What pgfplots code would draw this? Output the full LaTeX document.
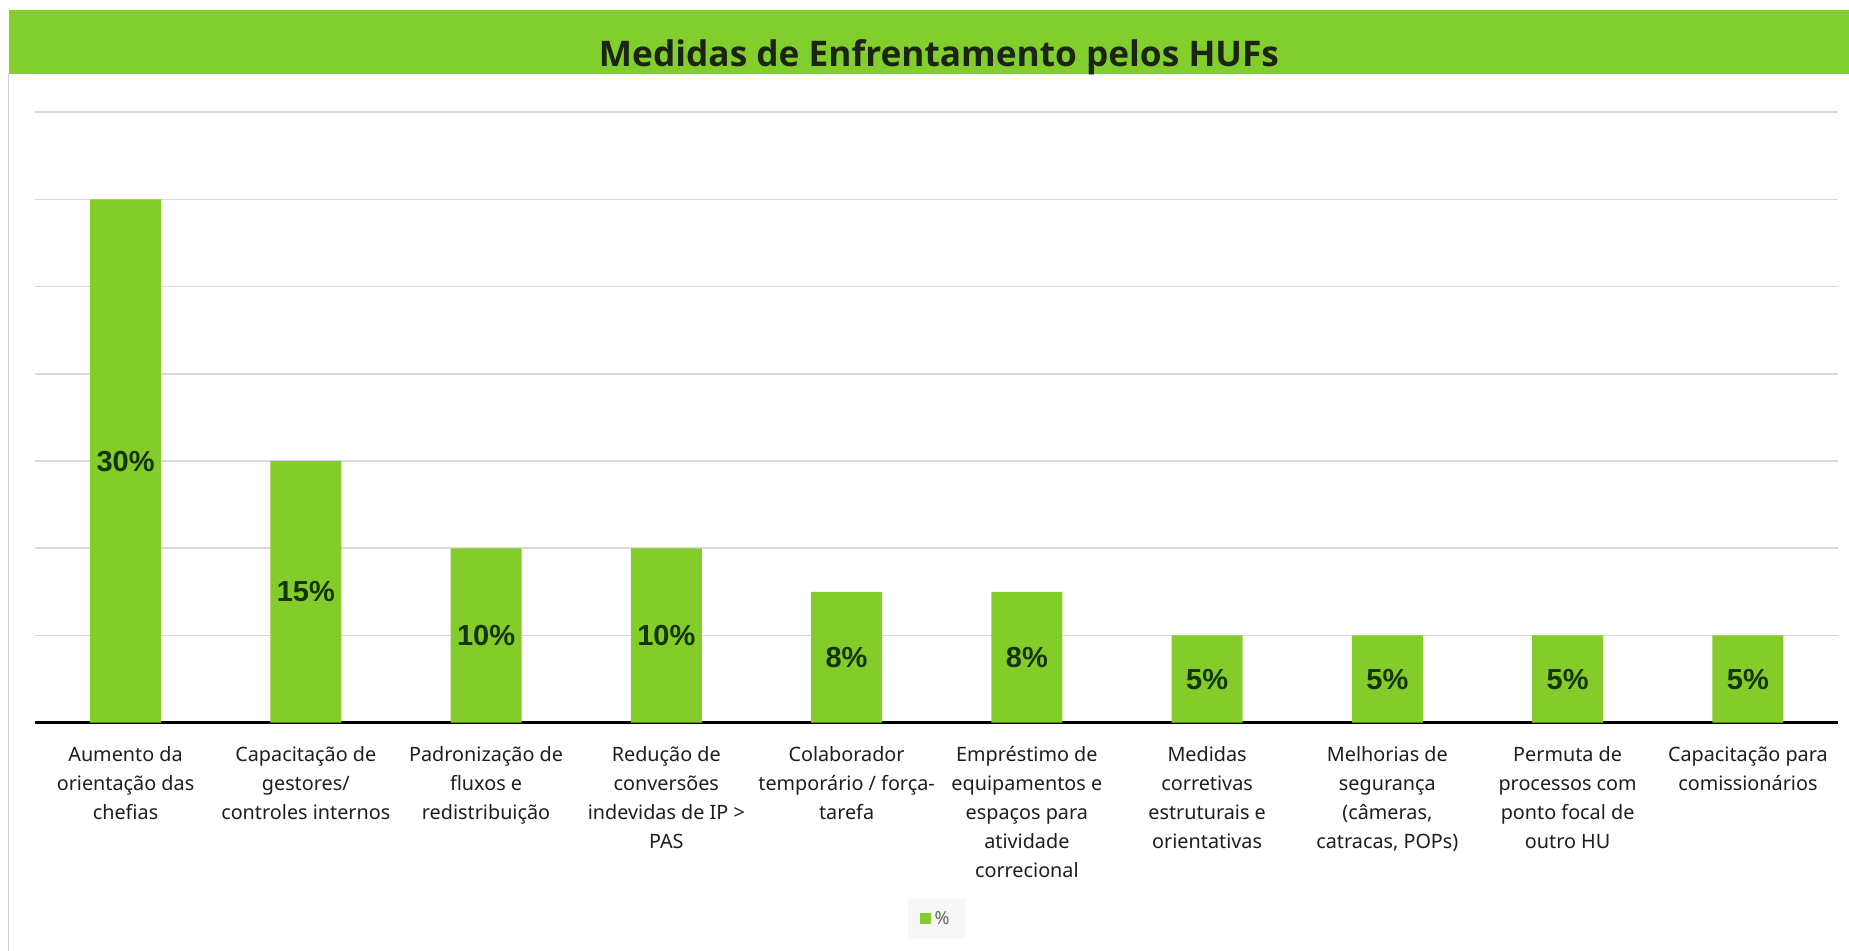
\documentclass[border=0pt]{standalone}
\usepackage{pgfplots}
\pgfplotsset{compat=1.18}
\usepackage{fontspec}
\setmainfont{Noto Sans}
\newfontfamily\titlefont{Open Sans}
\newfontfamily\barfont{Liberation Sans}
\definecolor{barg}{RGB}{132,204,42}
\definecolor{bandg}{RGB}{130,206,44}
\definecolor{titletext}{RGB}{28,36,20}
\definecolor{lbltext}{RGB}{22,52,10}
\definecolor{ticktext}{RGB}{30,30,30}
\definecolor{gridc}{RGB}{217,217,217}
\newcommand{\lbl}[1]{\begin{tabular}[t]{@{}c@{}}#1\end{tabular}}
\begin{document}
\begin{tikzpicture}
\path[use as bounding box] (0,0) rectangle (924.5pt,475.5pt);
\fill[white] (0,0) rectangle (924.5pt,475.5pt);
% title band
\fill[bandg] (4.5pt,438.5pt) rectangle (924.5pt,470.5pt);
\draw[gray!35, line width=0.6pt] (4.15pt,0pt) -- (4.15pt,438.5pt);
\node[anchor=base, inner sep=0pt, text=titletext] at (469.5pt,442.2pt)
  {\resizebox{340pt}{!}{\titlefont\bfseries\fontsize{17.5pt}{20pt}\selectfont Medidas de Enfrentamento pelos HUFs}};
\begin{axis}[
  at={(17.7pt,114.15pt)}, anchor=south west,
  scale only axis, width=901.3pt, height=305.2pt,
  xmin=-0.5, xmax=9.5, ymin=0, ymax=35,
  axis x line*=bottom, axis y line*=left,
  y axis line style={draw=none},
  x axis line style={black, line width=1.7pt},
  ytick={0,5,10,15,20,25,30,35}, yticklabels={},
  ymajorgrids, major grid style={gridc, line width=0.8pt},
  major tick length=0pt,
  xtick={0,1,2,3,4,5,6,7,8,9},
  xticklabels={
    {\lbl{Aumento da\\orientação das\\chefias}},
    {\lbl{Capacitação de\\gestores/\\controles internos}},
    {\lbl{Padronização de\\fluxos e\\redistribuição}},
    {\lbl{Redução de\\conversões\\indevidas de IP >\\PAS}},
    {\lbl{Colaborador\\temporário / força-\\tarefa}},
    {\lbl{Empréstimo de\\equipamentos e\\espaços para\\atividade\\correcional}},
    {\lbl{Medidas\\corretivas\\estruturais e\\orientativas}},
    {\lbl{Melhorias de\\segurança\\(câmeras,\\catracas, POPs)}},
    {\lbl{Permuta de\\processos com\\ponto focal de\\outro HU}},
    {\lbl{Capacitação para\\comissionários}}
  },
  xticklabel style={anchor=base, inner sep=0pt, yshift=-19.5pt,
    font=\fontsize{9.9pt}{14.5pt}\selectfont, text=ticktext},
  legend style={at={(0.5,-0.3216)}, anchor=center, draw=none, fill=black!3,
    font=\fontsize{9pt}{11pt}\selectfont, text=black!60, inner xsep=6pt, inner ysep=4pt},
]
\addplot[ybar, bar width=35.5pt, bar shift=0pt, fill=barg, draw=none,
  legend image code/.code={\fill[barg] (0pt,-2.75pt) rectangle (5.5pt,2.75pt);}]
  coordinates {(0,30) (1,15) (2,10) (3,10) (4,7.5) (5,7.5) (6,5) (7,5) (8,5) (9,5)};
\addlegendentry{\%}
\addplot[draw=none, no marks, forget plot, nodes near coords, point meta=explicit symbolic,
  nodes near coords align={center},
  every node near coord/.append style={anchor=center, inner sep=0pt, text=lbltext,
    font=\barfont\bfseries\fontsize{14.5pt}{16pt}\selectfont}]
  table[meta=lab] {
  x y lab
  0 15 30\%
  1 7.5 15\%
  2 5 10\%
  3 5 10\%
  4 3.75 8\%
  5 3.75 8\%
  6 2.5 5\%
  7 2.5 5\%
  8 2.5 5\%
  9 2.5 5\%
  };
\end{axis}
\end{tikzpicture}
\end{document}
